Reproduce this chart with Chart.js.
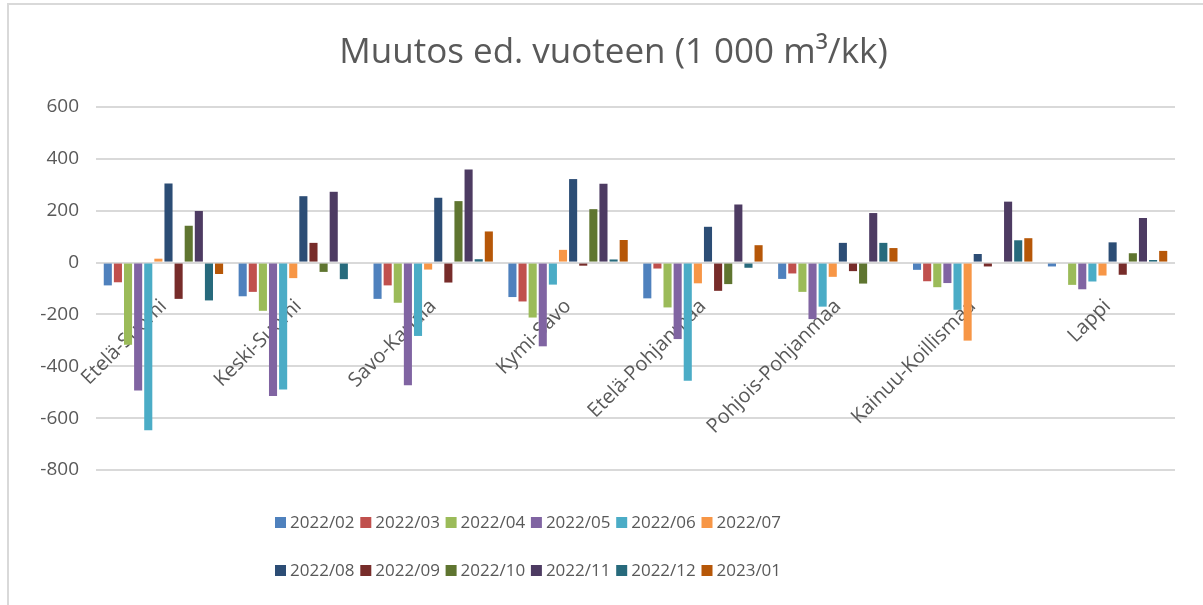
<!DOCTYPE html>
<html>
<head>
<meta charset="utf-8">
<title>Muutos ed. vuoteen</title>
<script src="https://cdn.jsdelivr.net/npm/chart.js@4"></script>
<style>
  body { margin: 0; background: #fff; }
  #wrap { position: relative; width: 1203px; height: 605px; }
</style>
</head>
<body>
<div id="wrap"><canvas id="myChart" width="1203" height="605"></canvas></div>
<script>
const regions = ['Etelä-Suomi', 'Keski-Suomi', 'Savo-Karjala', 'Kymi-Savo',
  'Etelä-Pohjanmaa', 'Pohjois-Pohjanmaa', 'Kainuu-Koillismaa', 'Lappi'];

const months = ['2022/02', '2022/03', '2022/04', '2022/05', '2022/06', '2022/07',
  '2022/08', '2022/09', '2022/10', '2022/11', '2022/12', '2023/01'];

// one row per month, values by region (1 000 m3/kk)
const m2202 = [-88, -130, -140, -133, -138, -63, -28, -15];
const m2203 = [-76, -113, -88, -150, -23, -42, -72, 0];
const m2204 = [-317, -186, -155, -212, -173, -113, -95, -86];
const m2205 = [-493, -515, -473, -323, -295, -218, -79, -103];
const m2206 = [-647, -490, -283, -85, -456, -170, -182, -73];
const m2207 = [15, -60, -27, 49, -80, -55, -301, -50];
const m2208 = [305, 256, 250, 322, 138, 76, 33, 78];
const m2209 = [-140, 76, -77, -12, -109, -33, -15, -47];
const m2210 = [142, -36, 237, 206, -83, -81, 0, 36];
const m2211 = [199, 273, 359, 304, 224, 191, 235, 172];
const m2212 = [-146, -64, 13, 12, -20, 76, 86, 10];
const m2301 = [-44, 0, 120, 87, 67, 56, 94, 45];

const seriesValues = [m2202, m2203, m2204, m2205, m2206, m2207,
  m2208, m2209, m2210, m2211, m2212, m2301];

const colors = ['#4F81BD', '#C0504D', '#9BBB59', '#8064A2', '#4BACC6', '#F79646',
  '#2C4D75', '#772C2A', '#5F7530', '#4D3B62', '#276A7C', '#B65708'];

const yTicks = [600, 400, 200, 0, -200, -400, -600, -800];

const textColor = '#595959';
const fontFamily = '"Open Sans", "Noto Sans", sans-serif';

// legend in two rows of six, like the original
const rowLegend = {
  id: 'rowLegend',
  afterDraw(chart) {
    const ctx = chart.ctx;
    ctx.save();
    ctx.font = '17px ' + fontFamily;
    ctx.textBaseline = 'middle';
    chart.data.datasets.forEach(function (ds, i) {
      const col = i % 6, row = Math.floor(i / 6);
      const x = 275 + col * 85.3;
      const y = 523 + row * 48;
      ctx.fillStyle = ds.backgroundColor;
      ctx.fillRect(x, y - 6, 11, 11);
      ctx.fillStyle = textColor;
      ctx.fillText(ds.label, x + 15, y);
    });
    ctx.restore();
  }
};

const frame = {
  id: 'frame',
  beforeDraw(chart) {
    const ctx = chart.ctx;
    ctx.save();
    ctx.strokeStyle = '#d9d9d9';
    ctx.lineWidth = 2;
    ctx.beginPath();
    ctx.moveTo(8, chart.height);
    ctx.lineTo(8, 4);
    ctx.lineTo(chart.width, 4);
    ctx.stroke();
    ctx.restore();
  },
  // title sits a bit right of the canvas centre in the original
  afterLayout(chart) {
    if (chart.titleBlock) chart.titleBlock.left += 52;
  }
};

const datasets = months.map(function (m, i) {
  return {
    label: m,
    data: seriesValues[i],
    backgroundColor: colors[i],
    categoryPercentage: 0.9,
    barPercentage: 0.8
  };
});

new Chart(document.getElementById('myChart'), {
  type: 'bar',
  data: { labels: regions, datasets: datasets },
  plugins: [frame, rowLegend],
  options: {
    responsive: false,
    animation: false,
    layout: { padding: { left: 0, right: 28, top: 0, bottom: 135 } },
    plugins: {
      legend: { display: false },
      tooltip: { enabled: false },
      title: {
        display: true,
        text: 'Muutos ed. vuoteen (1 000 m³/kk)',
        color: textColor,
        font: { family: fontFamily, size: 35, weight: 'normal' },
        padding: { top: 32, bottom: 33 }
      }
    },
    scales: {
      x: {
        position: { y: 0 },
        grid: { display: false, drawTicks: false },
        border: { display: false },
        ticks: {
          color: textColor,
          font: { family: fontFamily, size: 20 },
          autoSkip: false,
          minRotation: 45,
          maxRotation: 45,
          padding: 32
        }
      },
      y: {
        min: -800,
        max: 600,
        afterFit(scale) { scale.width = 96; },
        afterBuildTicks(scale) { scale.ticks = yTicks.map(function (v) { return { value: v }; }); },
        grid: { color: '#d9d9d9', lineWidth: 2, drawTicks: false },
        border: { display: false },
        ticks: {
          color: textColor,
          font: { family: fontFamily, size: 19 },
          padding: 17
        }
      }
    }
  }
});
</script>
</body>
</html>
